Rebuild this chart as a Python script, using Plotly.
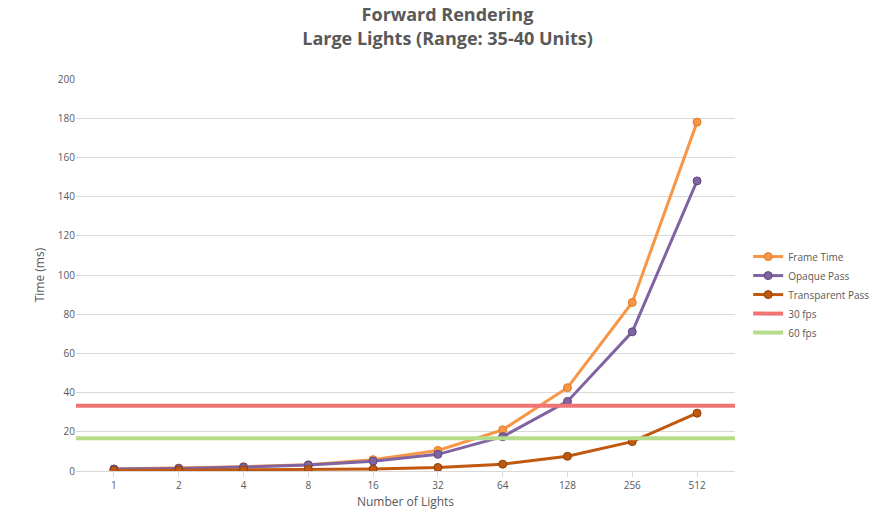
import plotly.graph_objects as go

lights = ["1", "2", "4", "8", "16", "32", "64", "128", "256", "512"]
frame_time = [1.0, 1.5, 2.2, 3.2, 5.8, 10.5, 21.0, 42.5, 86.0, 178.0]
opaque_pass = [1.0, 1.3, 2.0, 3.0, 5.0, 8.5, 17.5, 35.5, 71.0, 148.0]
transparent_pass = [0.3, 0.4, 0.6, 0.8, 1.0, 1.8, 3.5, 7.5, 15.0, 29.5]
fps30 = 1000 / 30
fps60 = 1000 / 60

fig = go.Figure()

for name, val, col in [("30 fps", fps30, "#F07474"), ("60 fps", fps60, "#B5DC8A")]:
    fig.add_trace(go.Scatter(
        x=[-0.5, len(lights) - 0.5], y=[val, val], mode="lines", name=name,
        line=dict(color=col, width=4), xaxis="x2", legendrank=2000,
    ))

series = [
    ("Frame Time", frame_time, "#F79646", "#E07B25"),
    ("Opaque Pass", opaque_pass, "#8064A2", "#5F4780"),
    ("Transparent Pass", transparent_pass, "#C0590F", "#8E3F08"),
]
for name, vals, col, edge in series:
    fig.add_trace(go.Scatter(
        x=lights, y=vals, mode="lines+markers", name=name,
        line=dict(color=col, width=3), legendrank=1000,
        marker=dict(size=8, color=col, line=dict(color=edge, width=1)),
    ))

fig.update_layout(
    width=879, height=529,
    paper_bgcolor="white", plot_bgcolor="white",
    font=dict(family="Open Sans, DejaVu Sans", color="#595959", size=10),
    title=dict(text="<b>Forward Rendering</b><br><b>Large Lights (Range: 35-40 Units)</b>",
               x=0.5, xanchor="center", y=0.975, yanchor="top",
               font=dict(size=18, color="#595959")),
    margin=dict(l=68, r=144, t=71, b=66),
    xaxis=dict(type="category", showgrid=False, showline=True, linecolor="#D9D9D9",
               ticks="outside", tickcolor="#D9D9D9", ticklen=5,
               title=dict(text="Number of Lights", standoff=6)),
    xaxis2=dict(overlaying="x", range=[-0.5, len(lights) - 0.5], visible=False),
    yaxis=dict(range=[0, 200], dtick=20, gridcolor="#D9D9D9", zeroline=False,
               title=dict(text="Time (ms)", standoff=10)),
    legend=dict(x=1.02, y=0.45, yanchor="middle", tracegroupgap=8,
                font=dict(size=10, color="#595959")),
)

fig.write_html("out.html")
